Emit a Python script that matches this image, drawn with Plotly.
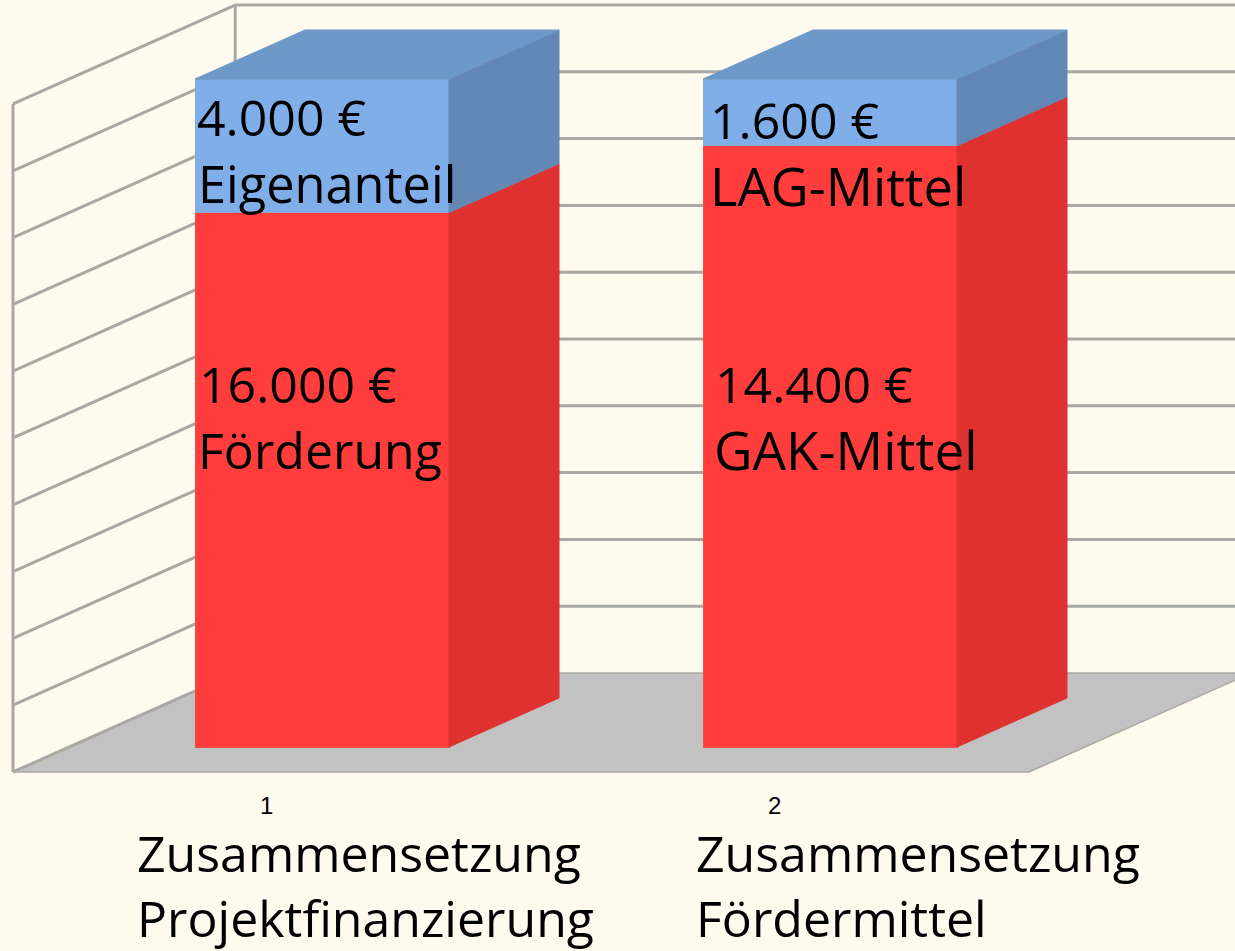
import plotly.graph_objects as go

# ---- data ----
categories = [1, 2]
category_titles = [["Zusammensetzung", "Projektfinanzierung"], ["Zusammensetzung", "Fördermittel"]]
lower_values = [16000, 14400]
upper_values = [4000, 1600]
lower_names = ["Förderung", "GAK-Mittel"]
upper_names = ["Eigenanteil", "LAG-Mittel"]
pct_ticks = list(range(0, 101, 10))

# ---- style / scale ----
W, H = 1235, 951
BG = "#FEFAEE"
GRID = "#A9A8A2"
FLOOR = "#C2C2C2"
RED_FRONT, RED_SIDE = "#FF3D3D", "#DF3230"
BLUE_FRONT, BLUE_SIDE, BLUE_TOP = "#7FAEE8", "#6488B6", "#6C99C7"
FONT = "Open Sans"
PX_CAT, PX_PCT = 508.0, 6.68      # pixels per category, per percent
CAT1_PX, BASE_PX = 322.0, 747.0   # pixel of category 1 centre, of 0 %
BAR_W = 0.5
DX, DY = 110 / PX_CAT, 49 / PX_PCT  # one bar depth
D_FRONT, D_BACK = -0.51, 1.51       # floor extent in bar depths
X_LEFT = (13 - CAT1_PX) / PX_CAT + 1 + 0.51 * DX
X_RIGHT = (1029 - CAT1_PX) / PX_CAT + 1 + 0.51 * DX


def proj(x, pct, d):
    return x + d * DX, pct + d * DY


def px(x, y):
    return x / W, 1 - y / H


lower_pct = [a / (a + b) * 100 for a, b in zip(lower_values, upper_values)]

fig = go.Figure()
fig.add_bar(x=categories, y=lower_values, width=BAR_W, marker=dict(color=RED_FRONT, line=dict(color="#E8504A", width=1)))
fig.add_bar(x=categories, y=upper_values, width=BAR_W, marker=dict(color=BLUE_FRONT, line=dict(color="#8FA9C8", width=1)))


def poly(points, color):
    xs = [p[0] for p in points] + [points[0][0]]
    ys = [p[1] for p in points] + [points[0][1]]
    fig.add_scatter(x=xs, y=ys, mode="lines", fill="toself", fillcolor=color,
                    line=dict(color=color, width=1), hoverinfo="skip")


for c, lp in zip(categories, lower_pct):
    xl, xr = c - BAR_W / 2, c + BAR_W / 2
    poly([proj(xr, 0, 0), proj(xr, lp, 0), proj(xr, lp, 1), proj(xr, 0, 1)], RED_SIDE)
    poly([proj(xr, lp, 0), proj(xr, 100, 0), proj(xr, 100, 1), proj(xr, lp, 1)], BLUE_SIDE)
    poly([proj(xl, 100, 0), proj(xr, 100, 0), proj(xr, 100, 1), proj(xl, 100, 1)], BLUE_TOP)

shapes = []


def path(points):
    return "M " + " L ".join(f"{a},{b}" for a, b in points) + " Z"


# floor
x_far = (1235 - CAT1_PX) / PX_CAT + 1
floor = [proj(X_LEFT, 0, D_FRONT), proj(X_RIGHT, 0, D_FRONT), proj(X_RIGHT, 0, D_BACK), proj(X_LEFT, 0, D_BACK)]
shapes.append(dict(type="path", path=path(floor), fillcolor=FLOOR, line=dict(color=GRID, width=1.5), layer="below"))

# walls: gridlines
for t in pct_ticks:
    a, b = proj(X_LEFT, t, D_BACK), proj(X_LEFT, t, D_FRONT)
    shapes.append(dict(type="line", x0=a[0], y0=a[1], x1=b[0], y1=b[1], line=dict(color=GRID, width=3), layer="below"))
    if t > 0:
        shapes.append(dict(type="line", x0=a[0], y0=a[1], x1=x_far + 0.05, y1=a[1], line=dict(color=GRID, width=3), layer="below"))
for d in (D_FRONT, D_BACK):
    a, b = proj(X_LEFT, 0, d), proj(X_LEFT, 100, d)
    shapes.append(dict(type="line", x0=a[0], y0=a[1], x1=b[0], y1=b[1], line=dict(color=GRID, width=3), layer="below"))

annotations = []


def label(text, x, y, size=50, family=FONT, anchor="left"):
    ax, ay = px(x, y)
    annotations.append(dict(text=text, x=ax, y=ay, xref="paper", yref="paper", showarrow=False, align="left",
                            xanchor=anchor, yanchor="middle", font=dict(size=size, family=family, color="#000000")))


def euro(v):
    return f"{v:,.0f} €".replace(",", ".")


upper_pos = [((195, 117), (196, 183)), ((708, 120), (708, 185))]
lower_pos = [((197, 384), (196, 450)), ((713, 384), (712, 450))]
title_pos = [(135, 885), (694, 885)]
num_pos = [(266, 805), (774, 805)]
upper_name_sizes = [50.5, 52.5]
lower_name_sizes = [50, 53]

for i in range(2):
    label(euro(upper_values[i]), *upper_pos[i][0])
    label(upper_names[i], *upper_pos[i][1], size=upper_name_sizes[i])
    label(euro(lower_values[i]), *lower_pos[i][0])
    label(lower_names[i], *lower_pos[i][1], size=lower_name_sizes[i])
    label("<br>".join(category_titles[i]), *title_pos[i])
    label(str(categories[i]), *num_pos[i], size=24, family="Liberation Sans", anchor="center")

fig.update_layout(
    width=W, height=H, margin=dict(l=0, r=0, t=0, b=0), paper_bgcolor=BG, plot_bgcolor=BG,
    barmode="stack", barnorm="percent", showlegend=False, shapes=shapes, annotations=annotations,
    xaxis=dict(range=[1 - CAT1_PX / PX_CAT, 1 + (W - CAT1_PX) / PX_CAT], visible=False),
    yaxis=dict(range=[(BASE_PX - H) / PX_PCT, BASE_PX / PX_PCT], visible=False),
)
fig.write_html("out.html", config=dict(displayModeBar=False),
               post_script="document.body.style.margin='0';document.body.style.background='%s';" % BG)
